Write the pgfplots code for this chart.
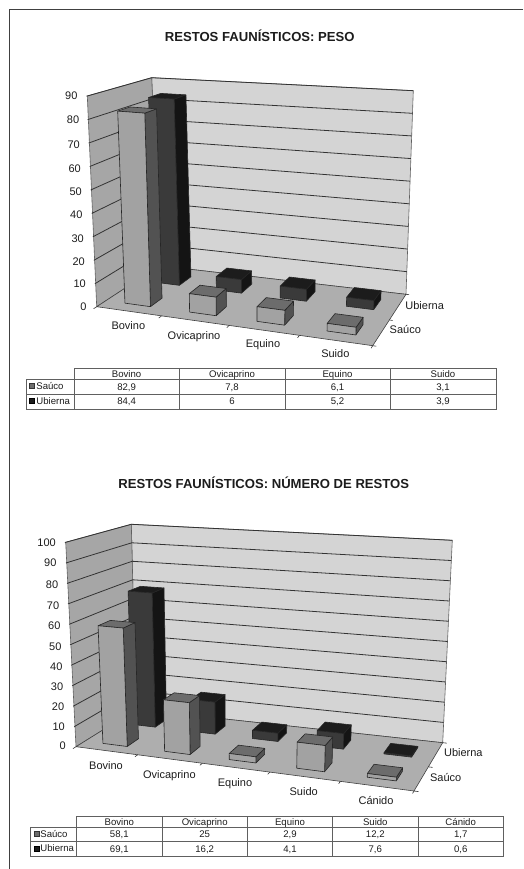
\documentclass[border=0pt]{standalone}
\usepackage{pgfplots}
\usepackage{pgfplotstable}
\usepackage{fontspec}
\setmainfont{Liberation Sans}
\pgfplotsset{compat=1.18}

\definecolor{backwall}{HTML}{D4D4D4}
\definecolor{leftwall}{HTML}{A6A6A6}
\definecolor{floorc}{HTML}{AEAEAE}
\definecolor{saufront}{HTML}{A2A2A2}
\definecolor{sauside}{HTML}{525252}
\definecolor{sautop}{HTML}{6C6C6C}
\definecolor{ubifront}{HTML}{3A3A3A}
\definecolor{ubiside}{HTML}{141414}
\definecolor{ubitop}{HTML}{1C1C1C}
\definecolor{tline}{HTML}{606060}
\definecolor{txt}{HTML}{1C1C1C}

% values: Peso
\pgfplotstableread{
cat sau ubi
0 82.9 84.4
1 7.8 6
2 6.1 5.2
3 3.1 3.9
}\pesotable
% values: Numero de restos
\pgfplotstableread{
cat sau ubi
0 58.1 69.1
1 25 16.2
2 2.9 4.1
3 12.2 7.6
4 1.7 0.6
}\numtable

% the box of the chart is given by its 8 corners in pixels,
% u = along categories, v = depth, w = height (all 0..1)
\newcommand\proj[3]{%
  \pgfmathsetmacro\pu{(#1)+\warp*(#1)*((#1)-1)}%
  \pgfmathsetmacro\pv{#2}\pgfmathsetmacro\pw{#3}%
  \pgfmathsetmacro\px{(1-\pw)*((1-\pv)*((1-\pu)*\Ax+\pu*\Bx)+\pv*((1-\pu)*\Dx+\pu*\Cx))+\pw*((1-\pv)*((1-\pu)*\Ex+\pu*\Fx)+\pv*((1-\pu)*\Hx+\pu*\Gx))}%
  \pgfmathsetmacro\py{(1-\pw)*((1-\pv)*((1-\pu)*\Ay+\pu*\By)+\pv*((1-\pu)*\Dy+\pu*\Cy))+\pw*((1-\pv)*((1-\pu)*\Ey+\pu*\Fy)+\pv*((1-\pu)*\Hy+\pu*\Gy))}%
}
\newcommand\vt[4]{\proj{#2}{#3}{#4}%
  \expandafter\let\csname X#1\endcsname\px
  \expandafter\let\csname Y#1\endcsname\py}

\newcommand\onebar[6]{% u0 u1 v0 v1 w series
  \vt{a}{#1}{#3}{0}\vt{b}{#2}{#3}{0}\vt{c}{#2}{#4}{0}%
  \vt{d}{#1}{#3}{#5}\vt{e}{#2}{#3}{#5}\vt{f}{#2}{#4}{#5}\vt{g}{#1}{#4}{#5}%
  \addplot[draw=black!85,line width=.6pt,line join=round,fill=#6side] coordinates {(\Xb,\Yb)(\Xc,\Yc)(\Xf,\Yf)(\Xe,\Ye)(\Xb,\Yb)};
  \addplot[draw=black!85,line width=.6pt,line join=round,fill=#6top] coordinates {(\Xd,\Yd)(\Xe,\Ye)(\Xf,\Yf)(\Xg,\Yg)(\Xd,\Yd)};
  \addplot[draw=black!85,line width=.6pt,line join=round,fill=#6front] coordinates {(\Xa,\Ya)(\Xb,\Yb)(\Xe,\Ye)(\Xd,\Yd)(\Xa,\Ya)};
}

\newcommand\drawbars[4]{% table, categories, zmax, column
  \pgfmathtruncatemacro\last{#2-1}%
  \foreach \i in {0,...,\last}{%
    \pgfplotstablegetelem{\i}{#4}\of#1%
    \pgfmathsetmacro\uA{(\i+.3)/#2}\pgfmathsetmacro\uB{(\i+.7)/#2}%
    \pgfmathsetmacro\ww{\pgfplotsretval/#3}%
    \ifnum\pdfstrcmp{#4}{sau}=0
      \onebar{\uA}{\uB}{.15}{.35}{\ww}{sau}%
    \else
      \onebar{\uA}{\uB}{.65}{.85}{\ww}{ubi}%
    \fi
  }%
}

\newcommand\drawbox[3]{% categories, z step as fraction, number of steps
  % walls and floor
  \vt{a}{0}{0}{0}\vt{b}{1}{0}{0}\vt{c}{1}{1}{0}\vt{d}{0}{1}{0}\vt{e}{0}{0}{1}\vt{g}{1}{1}{1}\vt{h}{0}{1}{1}%
  \addplot[fill=backwall,draw=tline,line width=.6pt] coordinates {(\Xd,\Yd)(\Xc,\Yc)(\Xg,\Yg)(\Xh,\Yh)(\Xd,\Yd)};
  \addplot[fill=leftwall,draw=tline,line width=.6pt] coordinates {(\Xa,\Ya)(\Xd,\Yd)(\Xh,\Yh)(\Xe,\Ye)(\Xa,\Ya)};
  \addplot[fill=floorc,draw=black!75,line width=.6pt] coordinates {(\Xa,\Ya)(\Xb,\Yb)(\Xc,\Yc)(\Xd,\Yd)(\Xa,\Ya)};
  % grid and ticks
  \foreach \k in {1,...,#3}{%
    \pgfmathsetmacro\ww{\k*#2}%
    \vt{p}{0}{-.012}{\ww}\vt{q}{0}{1}{\ww}\vt{r}{1}{1}{\ww}%
    \addplot[draw=black!80,line width=.8pt] coordinates {(\Xp,\Yp)(\Xq,\Yq)(\Xr,\Yr)};
  }%
  \foreach \k in {0,...,#1}{%
    \pgfmathsetmacro\uu{\k/#1}%
    \vt{p}{\uu}{0}{0}\vt{q}{\uu}{-.05}{0}%
    \addplot[draw=black!80,line width=.6pt] coordinates {(\Xp,\Yp)(\Xq,\Yq)};
  }%
  \foreach \k in {0,.5,1}{%
    \vt{p}{1}{\k}{0}\vt{q}{1.012}{\k}{0}%
    \addplot[draw=black!80,line width=.6pt] coordinates {(\Xp,\Yp)(\Xq,\Yq)};
  }%
}

\pgfplotsset{page axis/.style={
  axis lines=none, scale only axis, width=523pt, clip=false,
  xmin=0, xmax=523, y dir=reverse,
  title style={font=\fontsize{13.1}{15}\selectfont\bfseries,text=txt,anchor=center}}}

\begin{document}
\begin{tikzpicture}
\path[use as bounding box] (0,0) rectangle (523pt,869pt);

\begin{axis}[page axis, at={(0pt,434pt)}, anchor=south west, height=435pt, ymin=0, ymax=435,
  title={RESTOS FAUNÍSTICOS: PESO},
  title style={at={(axis description cs:0.4966,0.9034)}}]
  \def\warp{.08}
  \def\Ax{96.7}\def\Ay{306.7}\def\Bx{372.7}\def\By{345.7}\def\Cx{406}\def\Cy{294.3}\def\Dx{159.3}\def\Dy{265.7}
  \def\Ex{87.3}\def\Ey{96}\def\Fx{381.7}\def\Fy{117.7}\def\Gx{413.3}\def\Gy{90.7}\def\Hx{151.7}\def\Hy{77.7}
  \drawbox{4}{.11111}{9}
  \drawbars{\pesotable}{4}{90}{ubi}
  \drawbars{\pesotable}{4}{90}{sau}
\end{axis}

\begin{axis}[page axis, at={(0pt,0pt)}, anchor=south west, height=434pt, ymin=435, ymax=869,
  title={RESTOS FAUNÍSTICOS: NÚMERO DE RESTOS},
  title style={at={(axis description cs:0.5044,0.8763)}}]
  \def\warp{.11}
  \def\Ax{76}\def\Ay{746.7}\def\Bx{414}\def\By{791}\def\Cx{442.7}\def\Cy{742.7}\def\Dx{136}\def\Dy{709.3}
  \def\Ex{65.7}\def\Ey{542.3}\def\Fx{424.7}\def\Fy{567.7}\def\Gx{452.3}\def\Gy{540.3}\def\Hx{131.3}\def\Hy{524.3}
  \drawbox{5}{.1}{10}
  \drawbars{\numtable}{5}{100}{ubi}
  \drawbars{\numtable}{5}{100}{sau}
\end{axis}

% everything else in pixels of the page
\begin{scope}[shift={(0pt,869pt)},x=1pt,y=-1pt,
  every node/.style={text=txt,font=\fontsize{11}{12}\selectfont,inner sep=0pt,text height=7.9pt,text depth=0pt}]
  \draw[black!75,line width=1pt] (523,9.5) -- (9.5,9.5) -- (9.5,869);

  % chart 1 labels
  \foreach \l/\x/\y in {90/233/288,80/238/360,70/240/433,60/243/505,50/246/576,40/248/645,30/252/716,20/255/785,10/258/852,0/260/920}
    \node[anchor=east] at ({\x/3},{\y/3}) {\l};
  \foreach \l/\x/\y in {Bovino/385/977,Ovicaprino/582/1007,Equino/789/1030,Suido/1006/1060,Ubierna/1274/917,Saúco/1216/990}
    \node at ({\x/3},{\y/3}) {\l};

  % chart 2 labels
  \foreach \l/\x/\y in {100/168/307,90/170/369,80/175/433,70/178/497,60/182/558,50/185/620,40/188/681,30/190/740,20/193/800,10/195/860,0/198/918}
    \node[anchor=east] at ({\x/3},{440+\y/3}) {\l};
  \foreach \l/\x/\y in {Bovino/318/976,Ovicaprino/508/1005,Equino/705/1027,Suido/911/1054,Cánido/1128/1083,Ubierna/1390/939,Saúco/1337/1012}
    \node at ({\x/3},{440+\y/3}) {\l};

  % table 1
  \begin{scope}[every node/.style={text=txt,font=\fontsize{9.6}{10}\selectfont,inner sep=0pt,text height=6.9pt,text depth=0pt},tline,line width=.7pt]
    \draw (74,368) rectangle (496,409);
    \draw (26,379.3) rectangle (74,409);
    \draw (26,394.3) -- (496,394.3);
    \draw (74,379.3) -- (496,379.3);
    \foreach \x in {179.3,285,390} \draw (\x,368) -- (\x,409);
    \foreach \x/\a/\b/\c in {126.6/Bovino/{82,9}/{84,4},232/Ovicaprino/{7,8}/6,337.5/Equino/{6,1}/{5,2},443/Suido/{3,1}/{3,9}}{
      \node at (\x,373.8) {\a};
      \node at (\x,386.8) {\b};
      \node at (\x,401.5) {\c};
    }
    \draw[black!80,fill=sautop,line width=.5pt] (29.5,383.5) rectangle (34.5,388.5);
    \draw[black,fill=ubitop,line width=.5pt] (29.5,398.5) rectangle (34.5,403.5);
    \node[anchor=west] at (36,386.3) {Saúco};
    \node[anchor=west] at (36,401.3) {Ubierna};

    % table 2
    \draw (76.7,816.7) rectangle (503.3,856);
    \draw (30.7,827.3) rectangle (76.7,856);
    \draw (30.7,841.7) -- (503.3,841.7);
    \draw (76.7,827.3) -- (503.3,827.3);
    \foreach \x in {162,247.3,332.7,418} \draw (\x,816.7) -- (\x,856);
    \foreach \x/\a/\b/\c in {119.3/Bovino/{58,1}/{69,1},204.7/Ovicaprino/25/{16,2},290/Equino/{2,9}/{4,1},375.3/Suido/{12,2}/{7,6},460.7/Cánido/{1,7}/{0,6}}{
      \node at (\x,821.8) {\a};
      \node at (\x,834.5) {\b};
      \node at (\x,848.8) {\c};
    }
    \draw[black!80,fill=sautop,line width=.5pt] (34,831.5) rectangle (39,836.5);
    \draw[black,fill=ubitop,line width=.5pt] (34,845.8) rectangle (39,850.8);
    \node[anchor=west] at (40,834) {Saúco};
    \node[anchor=west] at (40,848.3) {Ubierna};
  \end{scope}
\end{scope}
\end{tikzpicture}
\end{document}
